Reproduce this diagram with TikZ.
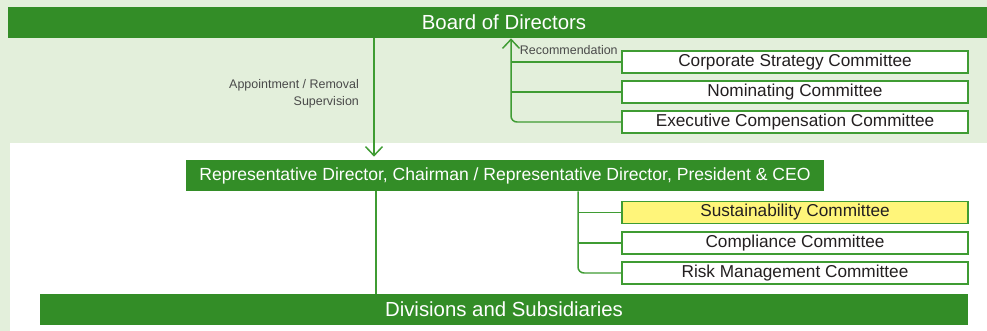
\documentclass[tikz,border=0pt]{standalone}
\usepackage{fontspec}
\setmainfont{Liberation Sans}
\usepackage{xcolor}
\usepackage{tikz}
\usetikzlibrary{arrows.meta,positioning,calc}
\definecolor{gvdark}{HTML}{338D27}
\definecolor{gvline}{HTML}{3F9C33}
\definecolor{gvpale}{HTML}{E3EFDB}
\definecolor{gvyellow}{HTML}{FFF57A}
\definecolor{gvink}{HTML}{231F20}
\definecolor{gvgray}{HTML}{4A4A4A}
\tikzset{
  bar/.style={rectangle,fill=gvdark,inner sep=0pt,minimum height=0.62cm,
              text=white,font=\fontsize{11.6}{13}\selectfont},
  cmte/.style={rectangle,draw=gvline,line width=0.85pt,fill=white,inner sep=0pt,
               minimum width=6.92cm,minimum height=0.44cm,
               text=gvink,font=\fontsize{9.8}{11}\selectfont},
  note/.style={text=gvgray,inner sep=1pt},
  link/.style={draw=gvline,line width=0.85pt},
  flow/.style={-{Straight Barb[length=1.8mm,width=3.4mm]},line width=0.85pt,draw=gvline},
}

\begin{document}
\begin{tikzpicture}[x=0.02cm,y=-0.02cm]
\useasboundingbox (0,0) rectangle (987,331);
% two backgrounds: board level and executive level
\fill[gvpale] (0,0) rectangle (987,331);
\fill[white] (10,143) rectangle (987,331);
\node[bar,minimum width=19.84cm] (board) at (504,22.5) {Board of Directors};
\node[bar,minimum width=12.76cm,font=\fontsize{10}{12}\selectfont] (rep) at (505,175.5)
  {Representative Director, Chairman / Representative Director, President \& CEO};
\node[bar,minimum width=18.56cm] (div) at (504,309.5) {Divisions and Subsidiaries};
% committees reporting to the board
\node[cmte] (cs) at (795,62)  {Corporate Strategy Committee};
\node[cmte] (nc) at (795,92)  {Nominating Committee};
\node[cmte] (ec) at (795,122) {Executive Compensation Committee};
% committees under the executives
\node[cmte,fill=gvyellow] (su) at (795,212.5) {Sustainability Committee};
\node[cmte] (co) at (795,243) {Compliance Committee};
\node[cmte] (rm) at (795,273) {Risk Management Committee};
\coordinate (ax) at (374,0);
\coordinate (rx) at (511,0);
\coordinate (dx) at (376,0);
\coordinate (bx) at (578,0);
\draw[flow,shorten >=0.06cm] (ax |- board.south) -- (ax |- rep.north);
\node[note,align=right,anchor=east,font=\fontsize{7.1}{9.6}\selectfont] (appt) at (361,94)
  {Appointment / Removal\\Supervision};
\draw[flow,rounded corners=0.12cm] (ec.west) -- (rx |- ec.west) -- (rx |- board.south);
\draw[link] (cs.west) -- (rx |- cs.west);
\draw[link] (nc.west) -- (rx |- nc.west);
\node[note,anchor=east,font=\fontsize{7.1}{8}\selectfont] (rec) at ([xshift=-0.03cm]cs.north west) {Recommendation};
\draw[link] (dx |- rep.south) -- (dx |- div.north);
\draw[link,rounded corners=0.12cm] (bx |- rep.south) -- (bx |- rm.west) -- (rm.west);
\draw[link] (bx |- su.west) -- (su.west);
\draw[link] (bx |- co.west) -- (co.west);
\end{tikzpicture}
\end{document}
